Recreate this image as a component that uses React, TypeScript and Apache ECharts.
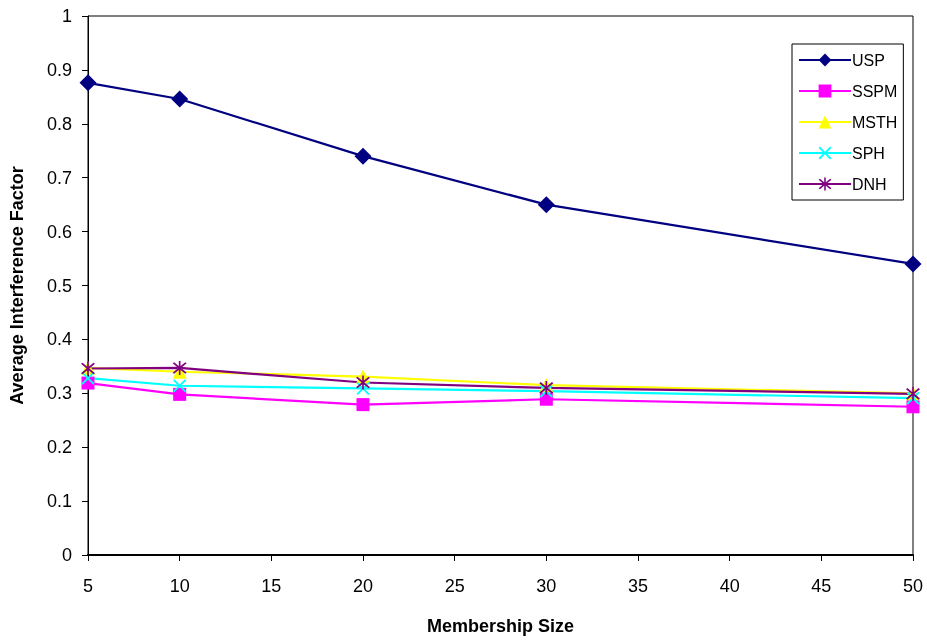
import React, { useEffect, useRef } from "react";
import * as echarts from "echarts";

// Membership sizes on the x axis
const membershipSizes = [5, 10, 20, 30, 50];

// Average interference factor per algorithm
const uspValues = [0.876, 0.846, 0.74, 0.65, 0.54];
const sspmValues = [0.319, 0.298, 0.279, 0.289, 0.275];
const msthValues = [0.347, 0.34, 0.331, 0.315, 0.3];
const sphValues = [0.328, 0.314, 0.309, 0.304, 0.291];
const dnhValues = [0.346, 0.347, 0.32, 0.31, 0.299];

const seriesNames = ["USP", "SSPM", "MSTH", "SPH", "DNH"];

// Marker shapes: "x" cross and asterisk built as filled outlines
const CROSS =
  "path://M0,1 L1,0 L5,4 L9,0 L10,1 L6,5 L10,9 L9,10 L5,6 L1,10 L0,9 L4,5 Z";
const STAR =
  "path://M0,1 L1,0 L5,4 L9,0 L10,1 L6,5 L10,9 L9,10 L5,6 L1,10 L0,9 L4,5 Z M4.4,-1 L5.6,-1 L5.6,11 L4.4,11 Z";

const FONT = "'Liberation Sans', Arial, sans-serif";

export default function App() {
  const ref = useRef<HTMLDivElement>(null);

  useEffect(() => {
    if (!ref.current) return;
    const chart = echarts.init(ref.current, null, { renderer: "svg" });

    const pairs = (vals: number[]) => membershipSizes.map((x, i) => [x, vals[i]]);

    const mk = (
      name: string,
      vals: number[],
      color: string,
      symbol: string,
      size: number
    ) => ({
      name,
      type: "line",
      data: pairs(vals),
      symbol,
      symbolSize: size,
      lineStyle: { color, width: 2.2 },
      itemStyle: { color, opacity: 1 },
      emphasis: { disabled: true },
    });

    chart.setOption({
      animation: false,
      textStyle: { fontFamily: FONT },
      grid: {
        left: 87,
        right: 14,
        top: 16,
        bottom: 83,
        show: true,
        borderColor: "#000",
        borderWidth: 1,
      },
      legend: {
        data: seriesNames,
        orient: "vertical",
        left: 792,
        top: 44,
        padding: [8, 6, 8, 6],
        itemGap: 15,
        itemWidth: 52,
        itemHeight: 16,
        borderColor: "#000",
        borderWidth: 1,
        backgroundColor: "#fff",
        textStyle: { fontFamily: FONT, fontSize: 16, color: "#000", padding: [0, 0, 0, -4] },
      },
      xAxis: {
        type: "value",
        min: 5,
        max: 50,
        interval: 5,
        name: "Membership Size",
        nameLocation: "middle",
        nameGap: 62,
        nameTextStyle: { fontFamily: FONT, fontSize: 18, fontWeight: "bold", color: "#000" },
        axisLine: { lineStyle: { color: "#000", width: 2 } },
        axisTick: { show: true, length: 6, lineStyle: { color: "#000" } },
        axisLabel: { fontFamily: FONT, fontSize: 18, color: "#000", margin: 22 },
        splitLine: { show: false },
      },
      yAxis: {
        type: "value",
        min: 0,
        max: 1,
        interval: 0.1,
        name: "Average Interference Factor",
        nameLocation: "middle",
        nameGap: 62,
        nameTextStyle: { fontFamily: FONT, fontSize: 18, fontWeight: "bold", color: "#000" },
        axisLine: { show: true, lineStyle: { color: "#000", width: 1 } },
        axisTick: { show: true, length: 6, lineStyle: { color: "#000" } },
        axisLabel: { fontFamily: FONT, fontSize: 18, color: "#000", margin: 16 },
        splitLine: { show: false },
      },
      series: [
        mk("USP", uspValues, "#000080", "diamond", 17),
        mk("SSPM", sspmValues, "#FF00FF", "rect", 13),
        mk("MSTH", msthValues, "#FFFF00", "triangle", 14),
        mk("SPH", sphValues, "#00FFFF", CROSS, 13),
        mk("DNH", dnhValues, "#800080", STAR, 14),
      ],
    });

    return () => chart.dispose();
  }, []);

  return (
    <div
      ref={ref}
      style={{ position: "fixed", left: 0, top: 0, width: 927, height: 640 }}
    />
  );
}
